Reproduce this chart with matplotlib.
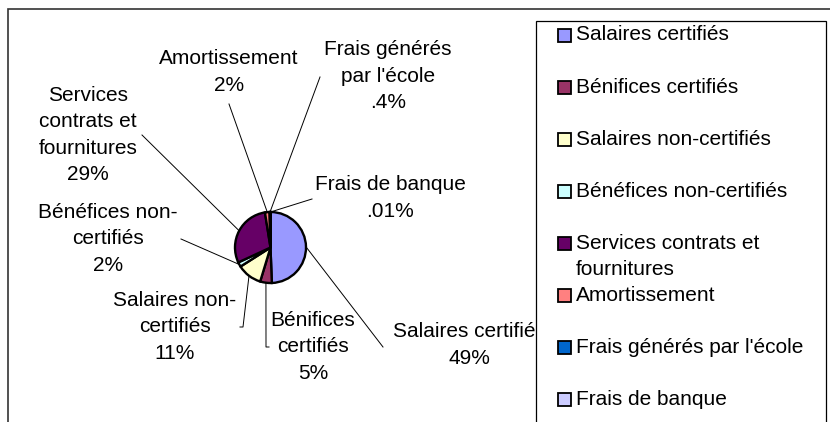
import numpy as np
import matplotlib
matplotlib.use("Agg")
import matplotlib.pyplot as plt
from matplotlib.patches import Rectangle

plt.rcParams['font.family'] = ['Liberation Sans', 'DejaVu Sans']

# data (share of the budget, %)
categories = ["Salaires certifiés", "Bénifices certifiés", "Salaires non-certifiés",
              "Bénéfices non-certifiés", "Services contrats et fournitures",
              "Amortissement", "Frais générés par l'école", "Frais de banque"]
values = [49.4, 5.3, 11.3, 2.1, 29.4, 2.1, 0.39, 0.01]
pct_labels = ["49%", "5%", "11%", "2%", "29%", "2%", ".4%", ".01%"]
# how the pie labels wrap
label_text = ["Salaires certifiés", "Bénifices\ncertifiés", "Salaires non-\ncertifiés",
              "Bénéfices non-\ncertifiés", "Services\ncontrats et\nfournitures",
              "Amortissement", "Frais générés\npar l'école", "Frais de banque"]
legend_text = ["Salaires certifiés", "Bénifices certifiés", "Salaires non-certifiés",
               "Bénéfices non-certifiés", "Services contrats et\nfournitures",
               "Amortissement", "Frais générés par l'école", "Frais de banque"]
colors = ['#9999FF', '#993366', '#FFFFCC', '#CCFFFF', '#660066',
          '#FF8080', '#0066CC', '#CCCCFF']

# layout (pixel coords, y from top)
W, H = 830, 422
cx, cy, r = 270.5, 247.5, 35.5
label_pos = [(469, 345), (313, 347), (175, 327), (108, 239),
             (88, 135), (229, 72), (388, 76), (390, 198)]
# leader line end points (label side); extra elbow for two of them
leader_end = [[(383, 347)], [(266, 347), (269, 347)], [(243, 327), (240, 327)],
              [(181, 239)], [(142, 135)], [(229, 104)], [(320, 77)], [(312, 199)]]
fs = 15
line_px = 27
lsp = 1.47

def fy(y):
    return H - y

fig = plt.figure(figsize=(W / 100, H / 100), dpi=100)
ax = fig.add_axes([0, 0, 1, 1])

# outer chart frame
ax.add_patch(Rectangle((8, fy(H + 20)), W + 20, H + 11, fill=False,
                       edgecolor='#333333', linewidth=1.2, zorder=1))

wedges, _ = ax.pie(values, colors=colors, startangle=90, counterclock=False,
                   center=(cx, fy(cy)), radius=r, frame=True,
                   wedgeprops=dict(edgecolor='black', linewidth=1.7))
ax.set_xlim(0, W)
ax.set_ylim(0, H)
ax.set_aspect('auto')
ax.axis('off')

# labels + leader lines
cum = np.cumsum([0] + values[:-1])
total = sum(values)
for i, v in enumerate(values):
    mid = (cum[i] + v / 2) / total * 2 * np.pi
    px = cx + r * np.sin(mid)
    py = cy - r * np.cos(mid)
    pts = [(px, py)] + leader_end[i]
    ax.plot([p[0] for p in pts], [fy(p[1]) for p in pts], color='black',
            linewidth=0.7, zorder=2)
    lx, ly = label_pos[i]
    ax.text(lx, fy(ly), label_text[i] + "\n" + pct_labels[i], ha='center',
            va='center', fontsize=fs, linespacing=lsp, zorder=3)

# legend box drawn on top (clips the right-hand label)
ax.add_patch(Rectangle((536, fy(H + 10)), 290, H + 10 - 21, facecolor='white',
                       edgecolor='black', linewidth=0.9, zorder=5))
for i, name in enumerate(legend_text):
    row = 35 + 52.1 * i
    ax.add_patch(Rectangle((558, fy(row + 6.5)), 13, 13, facecolor=colors[i],
                           edgecolor='black', linewidth=1.3, zorder=6))
    n = name.count("\n") + 1
    ax.text(576, fy(row + (n - 1) * line_px / 2), name, ha='left', va='center',
            fontsize=fs, linespacing=lsp, zorder=6)

fig.savefig('out.png', dpi=100)
